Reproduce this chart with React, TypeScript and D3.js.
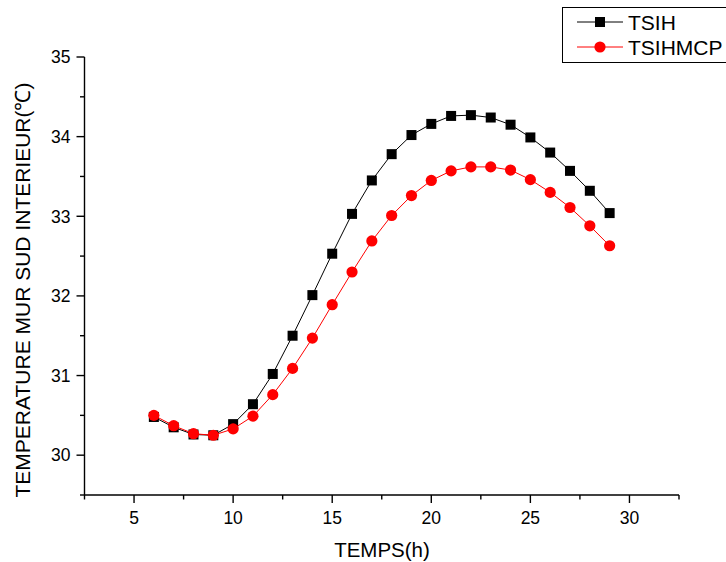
import React from "react";
import * as d3 from "d3";

const hours = [6, 7, 8, 9, 10, 11, 12, 13, 14, 15, 16, 17, 18, 19, 20, 21, 22, 23, 24, 25, 26, 27, 28, 29];
const tsih = [30.48, 30.35, 30.26, 30.25, 30.39, 30.64, 31.02, 31.5, 32.01, 32.53, 33.03, 33.45, 33.78, 34.02, 34.16, 34.26, 34.27, 34.24, 34.15, 33.99, 33.8, 33.57, 33.32, 33.04];
const tsihmcp = [30.5, 30.37, 30.27, 30.25, 30.33, 30.49, 30.76, 31.09, 31.47, 31.89, 32.3, 32.69, 33.01, 33.26, 33.45, 33.57, 33.62, 33.62, 33.58, 33.46, 33.3, 33.11, 32.88, 32.63];
const xTicks = [5, 10, 15, 20, 25, 30];
const xMinor = [2.5, 7.5, 12.5, 17.5, 22.5, 27.5, 32.5];
const yTicks = [30, 31, 32, 33, 34, 35];
const yMinor = [29.5, 30.5, 31.5, 32.5, 33.5, 34.5];
const seriesNames = ["TSIH", "TSIHMCP"];

const FONT = "'Liberation Sans', Arial, sans-serif";

export default function App() {
  const x = d3.scaleLinear().domain([2.5, 32.5]).range([84.5, 679]);
  const y = d3.scaleLinear().domain([29.5, 35]).range([495, 57]);
  const line = d3
    .line<[number, number]>()
    .x((d) => x(d[0]))
    .y((d) => y(d[1]));
  const blackPts: [number, number][] = hours.map((h, i) => [h, tsih[i]]);
  const redPts: [number, number][] = hours.map((h, i) => [h, tsihmcp[i]]);
  const x0 = x.range()[0];
  const y0 = y.range()[0];

  return (
    <svg
      width={726}
      height={562}
      style={{ position: "absolute", left: 0, top: 0, background: "#fff" }}
      fontFamily={FONT}
    >
      <rect x={0} y={0} width={726} height={562} fill="#fff" />
      {/* axes */}
      <line x1={x0} x2={x0} y1={y(35)} y2={y0} stroke="#000" strokeWidth={1.4} />
      <line x1={x0} x2={x.range()[1]} y1={y0} y2={y0} stroke="#000" strokeWidth={1.4} />
      {yTicks.map((t) => (
        <g key={"yt" + t}>
          <line x1={x0 - 8} x2={x0} y1={y(t)} y2={y(t)} stroke="#000" strokeWidth={1.4} />
          <text x={x0 - 14} y={y(t)} dy="0.36em" textAnchor="end" fontSize={17.5}>
            {t}
          </text>
        </g>
      ))}
      {yMinor.map((t) => (
        <line key={"ym" + t} x1={x0 - 4.5} x2={x0} y1={y(t)} y2={y(t)} stroke="#000" strokeWidth={1.4} />
      ))}
      {xTicks.map((t) => (
        <g key={"xt" + t}>
          <line x1={x(t)} x2={x(t)} y1={y0} y2={y0 + 8} stroke="#000" strokeWidth={1.4} />
          <text x={x(t)} y={y0 + 29} textAnchor="middle" fontSize={17.5}>
            {t}
          </text>
        </g>
      ))}
      {xMinor.map((t) => (
        <line key={"xm" + t} x1={x(t)} x2={x(t)} y1={y0} y2={y0 + 4.5} stroke="#000" strokeWidth={1.4} />
      ))}
      {/* titles */}
      <text x={382} y={557} textAnchor="middle" fontSize={20.5}>
        TEMPS(h)
      </text>
      <text
        transform={`translate(30, 290) rotate(-90)`}
        textAnchor="middle"
        fontSize={21}
      >
        TEMPERATURE MUR SUD INTERIEUR(℃)
      </text>
      {/* series */}
      <path d={line(blackPts) || ""} fill="none" stroke="#000" strokeWidth={1} />
      {blackPts.map((p, i) => (
        <rect key={"b" + i} x={x(p[0]) - 5} y={y(p[1]) - 5} width={10} height={10} fill="#000" />
      ))}
      <path d={line(redPts) || ""} fill="none" stroke="#ff0000" strokeWidth={1} />
      {redPts.map((p, i) => (
        <circle key={"r" + i} cx={x(p[0])} cy={y(p[1])} r={5.6} fill="#ff0000" />
      ))}
      {/* legend */}
      <rect x={562.5} y={7.5} width={180} height={55} fill="#fff" stroke="#000" strokeWidth={1} />
      <line x1={577} x2={623} y1={22} y2={22} stroke="#000" strokeWidth={1} />
      <rect x={595} y={17} width={10} height={10} fill="#000" />
      <text x={628} y={22} dy="0.36em" fontSize={21}>
        {seriesNames[0]}
      </text>
      <line x1={577} x2={623} y1={47} y2={47} stroke="#ff0000" strokeWidth={1} />
      <circle cx={600} cy={47} r={5.6} fill="#ff0000" />
      <text x={628} y={47} dy="0.36em" fontSize={21}>
        {seriesNames[1]}
      </text>
    </svg>
  );
}
